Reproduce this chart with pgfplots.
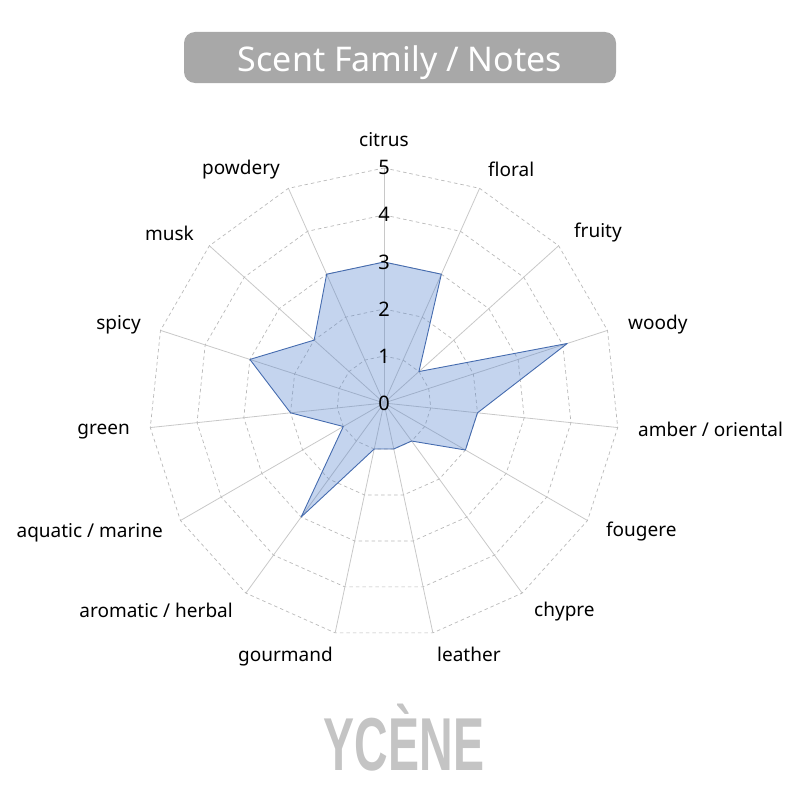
\documentclass[border=0pt]{standalone}
\usepackage{pgfplots}
\pgfplotsset{compat=1.18}
\usepackage{fontspec}
\setmainfont{Noto Sans}
\newfontfamily\logofont{Liberation Sans}
\definecolor{gridgray}{RGB}{200,200,200}
\definecolor{ringgray}{RGB}{185,185,185}
\definecolor{areafill}{RGB}{86,132,206}
\definecolor{arealine}{RGB}{70,108,175}
\definecolor{titlegray}{RGB}{168,168,168}
\definecolor{logogray}{RGB}{196,196,196}

\begin{document}
\begin{tikzpicture}[x=1pt,y=1pt]
\path (0,0) rectangle (800,-800);

% title box
\fill[titlegray, rounded corners=11pt] (184,-32) rectangle (616,-83);
\node[white, font=\fontsize{34}{38}\selectfont, inner sep=0, anchor=base] at (400,-71) {Scent Family / Notes};

\begin{axis}[
    x=47pt, y=47pt,
    anchor=origin, at={(384pt,-403pt)},
    xmin=-5, xmax=5, ymin=-5, ymax=5,
    axis lines=none, ticks=none, clip=false,
]
% spokes
\pgfplotsinvokeforeach{90,66,...,-246}{
  \addplot[gridgray, line width=0.8pt, data cs=polar] coordinates {(#1,0) (#1,5)};
}
% rings
\pgfplotsinvokeforeach{1,2,3,4,5}{
  \addplot[ringgray, line width=0.7pt, dash pattern=on 3.5pt off 3pt, data cs=polar] coordinates {
    (90,#1) (66,#1) (42,#1) (18,#1) (-6,#1) (-30,#1) (-54,#1) (-78,#1)
    (-102,#1) (-126,#1) (-150,#1) (-174,#1) (-198,#1) (-222,#1) (-246,#1) (-270,#1)};
}
% scores
\addplot[draw=arealine, line width=0.9pt, line join=round, fill=areafill, fill opacity=0.35, data cs=polar] coordinates {
  (90,3) (66,3) (42,1) (18,4.1) (-6,2) (-30,2) (-54,1) (-78,1)
  (-102,1) (-126,3) (-150,1) (-174,2) (-198,3) (-222,2) (-246,3) (-270,3)
};
\end{axis}

% radial tick labels
\begin{scope}[every node/.style={inner sep=0, font=\fontsize{20}{24}\selectfont}]
\node at (384,-403) {0};
\node at (384,-356) {1};
\node at (384,-309) {2};
\node at (384,-262) {3};
\node at (384,-214) {4};
\node at (384,-167) {5};
\end{scope}

% category labels
\begin{scope}[every node/.style={inner sep=0, font=\fontsize{19}{23}\selectfont}]
\node[anchor=mid] at (384,-144) {citrus};
\node[anchor=mid west] at (488,-174) {floral};
\node[anchor=mid west] at (574,-235) {fruity};
\node[anchor=mid west] at (628,-327) {woody};
\node[anchor=mid west] at (638,-434) {amber / oriental};
\node[anchor=mid west] at (606,-534) {fougere};
\node[anchor=mid west] at (534,-614) {chypre};
\node[anchor=mid west] at (437,-659) {leather};
\node[anchor=mid east] at (333,-659) {gourmand};
\node[anchor=mid east] at (233,-615) {aromatic / herbal};
\node[anchor=mid east] at (163,-535) {aquatic / marine};
\node[anchor=mid east] at (130,-432) {green};
\node[anchor=mid east] at (141,-327) {spicy};
\node[anchor=mid east] at (194,-238) {musk};
\node[anchor=mid east] at (280,-172) {powdery};
\end{scope}

% logo
\node[logogray, inner sep=0, anchor=base] at (404,-770)
  {\scalebox{0.62}[1]{\logofont\bfseries\fontsize{75}{80}\selectfont YCÈNE}};
\end{tikzpicture}
\end{document}
